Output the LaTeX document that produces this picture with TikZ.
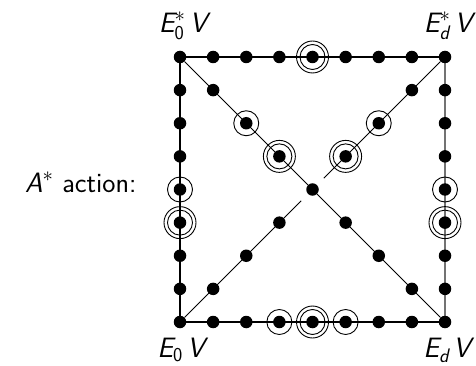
\documentclass[tikz,border=0pt]{standalone}
\usepackage{amsmath}
\usepackage{fontspec}
\usetikzlibrary{backgrounds,calc}
\newcommand{\sfi}[1]{\text{\sffamily\itshape #1}}
\newcommand{\sfu}[1]{\text{\sffamily\upshape #1}}
\begin{document}
\begin{tikzpicture}[x=1pt,y=-1pt,
  dot/.style={circle,fill=black,inner sep=0pt,minimum size=12.5pt},
  ringa/.style={circle,draw,line width=0.9pt,inner sep=0pt,minimum size=25pt},
  ringb/.style={circle,draw,line width=0.9pt,inner sep=0pt,minimum size=32pt},
  side/.style={line width=1.1pt},
  gside/.style={line width=1.1pt,draw=black!55},
  diag/.style={line width=1pt},
  lab/.style={font=\sffamily\fontsize{28}{33}\selectfont,inner sep=0pt}
]
\useasboundingbox (0,0) rectangle (476,366);
% corners and centre
\node[dot] (c-tl) at (180,57) {};
\node[dot] (c-tr) at (445,57) {};
\node[dot] (c-bl) at (180,322) {};
\node[dot] (c-br) at (445,322) {};
\node[dot] (ctr) at (312.5,189.5) {};
% sides
\foreach \i in {1,...,7} {
  \node[dot] (t\i) at ({180+33.125*\i},57) {};
  \node[dot] (b\i) at ({180+33.125*\i},322) {};
  \node[dot] (l\i) at (180,{57+33.125*\i}) {};
  \node[dot] (r\i) at (445,{57+33.125*\i}) {};
}
% diagonals
\foreach \i in {1,2,3,5,6,7} {
  \node[dot] (m\i) at ({180+33.125*\i},{57+33.125*\i}) {};
  \node[dot] (a\i) at ({445-33.125*\i},{57+33.125*\i}) {};
}
% rings
\node[ringb] (t4o) at (t4) {};
\node[ringa] (t4i) at (t4) {};
\node[ringa] (b3i) at (b3) {};
\node[ringb] (b4o) at (b4) {};
\node[ringa] (b4i) at (b4) {};
\node[ringa] (b5i) at (b5) {};
\node[ringa] (l4i) at (l4) {};
\node[ringb] (l5o) at (l5) {};
\node[ringa] (l5i) at (l5) {};
\node[ringa] (r4i) at (r4) {};
\node[ringb] (r5o) at (r5) {};
\node[ringa] (r5i) at (r5) {};
\node[ringa] (m2i) at (m2) {};
\node[ringb] (m3o) at (m3) {};
\node[ringa] (m3i) at (m3) {};
\node[ringa] (a2i) at (a2) {};
\node[ringb] (a3o) at (a3) {};
\node[ringa] (a3i) at (a3) {};
% gap ends of the anti-diagonal
\coordinate (g1) at ($(ctr)!16pt!(c-tr)$);
\coordinate (g2) at ($(ctr)!16pt!(c-bl)$);
\begin{pgfonlayer}{background}
  \draw[side] (c-tl) -- (c-tr);
  \draw[side] (c-bl) -- (c-br);
  \draw[side] (c-tl) -- (c-bl);
  \draw[gside] (c-tr) -- (c-br);
  \draw[diag] (c-tl) -- (ctr) -- (c-br);
  \draw[diag] (c-tr) -- (g1);
  \draw[diag] (c-bl) -- (g2);
\end{pgfonlayer}
% labels
\node[lab,anchor=base] (ltl) at (183,33) {$\sfi{E}^{*}_{\sfu{0}}\,\sfi{V}$};
\node[lab,anchor=base] (ltr) at (448,33) {$\sfi{E}^{*}_{\sfi{d}}\,\sfi{V}$};
\node[lab,anchor=base] (lbl) at (181,357) {$\sfi{E}_{\sfu{0}}\,\sfi{V}$};
\node[lab,anchor=base] (lbr) at (447,357) {$\sfi{E}_{\sfi{d}}\,\sfi{V}$};
\node[lab,anchor=base west] (act) at (25,193) {$\sfi{A}^{*}$ action:};
\end{tikzpicture}
\end{document}
